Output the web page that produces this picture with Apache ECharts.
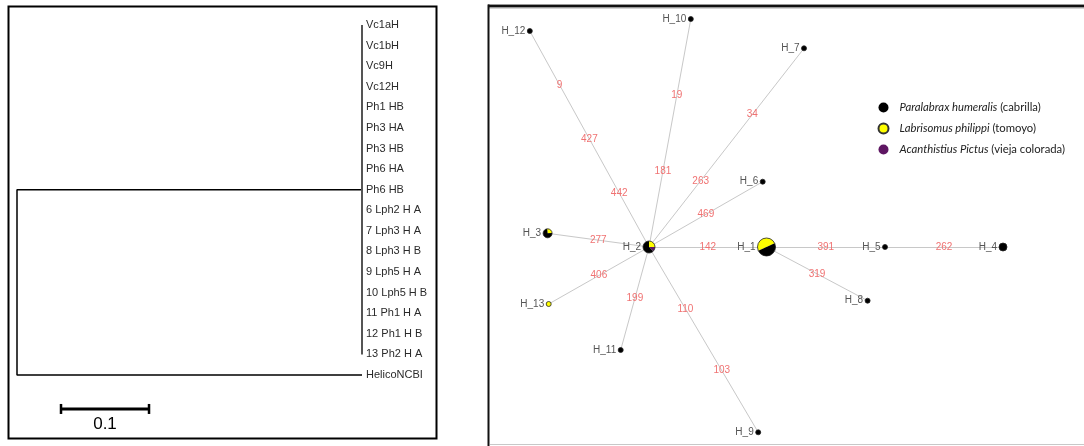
<!DOCTYPE html>
<html lang="en">
<head>
    <meta charset="UTF-8" />
    <title>Tree and haplotype network</title>
    <script src="https://cdn.jsdelivr.net/npm/echarts@6.0.0/dist/echarts.min.js"></script>
    <style>
        html, body { margin: 0; padding: 0; background: #fff; }
        #main { width: 1084px; height: 446px; }
    </style>
</head>
<body>
    <div id="main"></div>
    <script>
        // ---- left: tree ----
        var tipNames = ["Vc1aH", "Vc1bH", "Vc9H", "Vc12H", "Ph1 HB", "Ph3 HA", "Ph3 HB", "Ph6 HA", "Ph6 HB",
            "6 Lph2 H A", "7 Lph3 H A", "8 Lph3 H B", "9 Lph5 H A", "10 Lph5 H B", "11 Ph1 H A", "12 Ph1 H B",
            "13 Ph2 H A", "HelicoNCBI"];
        var cladeBranch = 0.392;     // root -> clade node
        var outgroupBranch = 0.392;  // root -> HelicoNCBI
        var scaleLength = 0.1;

        // ---- right: haplotype network ----
        var nodeNames = ["H_1", "H_2", "H_3", "H_4", "H_5", "H_6", "H_7", "H_8", "H_9", "H_10", "H_11", "H_12", "H_13"];
        var nodeX = [278.5, 161, 59.6, 515, 397, 274.7, 316, 379.6, 270.2, 202.8, 132.7, 41.8, 60.7];
        var nodeY = [247, 247, 233.3, 247, 247, 181.7, 48.3, 300.7, 432.3, 19, 350, 31, 304];
        var nodeRadius = [9, 6, 4.5, 4, 2.5, 2.5, 2.5, 2.5, 2.5, 2.5, 2.5, 2.5, 2.5];
        // share of each species in a haplotype
        var nodeYellow = [0.5, 0.25, 0.25, 0, 0, 0, 0, 0, 0, 0, 0, 0, 1];
        var nodePurple = [0, 0.125, 0, 0, 0, 0, 0, 0, 0, 0, 0, 0, 0];
        var nodeBlack = [0.5, 0.625, 0.75, 1, 1, 1, 1, 1, 1, 1, 1, 1, 0];
        var nodeStartAngle = [155, -90, -95, -90, -90, -90, -90, -90, -90, -90, -90, -90, -90];

        var edgeFrom = ["H_2", "H_2", "H_2", "H_2", "H_2", "H_2", "H_1", "H_5", "H_1", "H_2", "H_2", "H_2"];
        var edgeTo = ["H_12", "H_10", "H_7", "H_6", "H_3", "H_1", "H_5", "H_4", "H_8", "H_13", "H_11", "H_9"];
        var edgeSteps = [["442", "427", "9"], ["181", "19"], ["263", "34"], ["469"], ["277"], ["142"],
            ["391"], ["262"], ["319"], ["406"], ["199"], ["110", "103"]];

        var speciesNames = ["Paralabrax humeralis", "Labrisomus philippi", "Acanthistius Pictus"];
        var speciesCommon = ["(cabrilla)", "(tomoyo)", "(vieja colorada)"];
        var speciesColors = ["#000000", "#ffff00", "#5e1662"];

        var chart = echarts.init(document.getElementById("main"));

        function idx(name) { return nodeNames.indexOf(name); }

        var treePath = [[cladeBranch, 8], [0, 8], [0, tipNames.length - 1], [outgroupBranch, tipNames.length - 1]];
        var tipData = tipNames.map(function (n, i) {
            return [i < tipNames.length - 1 ? cladeBranch : outgroupBranch, i, n];
        });

        var edgeLines = edgeFrom.map(function (f, i) {
            var a = idx(f), b = idx(edgeTo[i]);
            return { coords: [[nodeX[a], nodeY[a]], [nodeX[b], nodeY[b]]] };
        });
        // mutation labels spaced evenly along each edge
        var stepData = [];
        edgeFrom.forEach(function (f, i) {
            var a = idx(f), b = idx(edgeTo[i]);
            var n = edgeSteps[i].length;
            edgeSteps[i].forEach(function (s, k) {
                var t = (k + 1) / (n + 1);
                stepData.push([nodeX[a] + (nodeX[b] - nodeX[a]) * t, nodeY[a] + (nodeY[b] - nodeY[a]) * t, s]);
            });
        });
        var nodeData = nodeNames.map(function (n, i) { return [nodeX[i], nodeY[i], n]; });

        var option = {
            animation: false,
            backgroundColor: "#fff",
            grid: [
                { left: 17, top: 25, width: 345, height: 411.76 },
                { left: 488, top: 0, width: 596, height: 446 }
            ],
            xAxis: [
                { gridIndex: 0, type: "value", min: 0, max: cladeBranch, show: false },
                { gridIndex: 1, type: "value", min: 0, max: 596, show: false }
            ],
            yAxis: [
                { gridIndex: 0, type: "value", min: 0, max: 20, inverse: true, show: false },
                { gridIndex: 1, type: "value", min: 0, max: 446, inverse: true, show: false }
            ],
            legend: {
                orient: "vertical",
                left: 877.5,
                top: 101,
                padding: 0,
                itemWidth: 22,
                itemHeight: 10,
                itemGap: 8,
                selectedMode: false,
                data: speciesNames,
                formatter: function (name) {
                    return "{i|" + name + "} " + speciesCommon[speciesNames.indexOf(name)];
                },
                textStyle: {
                    color: "#222", fontSize: 11.3, fontFamily: "Lato", lineHeight: 13,
                    rich: { i: { fontStyle: "italic", fontSize: 11.3, fontFamily: "Lato", color: "#222" } }
                }
            },
            series: [
                {
                    type: "line", xAxisIndex: 0, yAxisIndex: 0, data: treePath, symbol: "none", clip: false,
                    lineStyle: { color: "#000", width: 1.5 }, silent: true
                },
                {
                    type: "line", xAxisIndex: 0, yAxisIndex: 0, data: [[cladeBranch, 0], [cladeBranch, tipNames.length - 2]],
                    symbol: "none", clip: false, lineStyle: { color: "#555", width: 2 }, silent: true
                },
                {
                    type: "line", xAxisIndex: 0, yAxisIndex: 0, clip: false, silent: true,
                    data: [[0.05, 18.65], [0.05 + scaleLength, 18.65]],
                    symbol: "rect", symbolSize: [2.5, 10], showAllSymbol: true,
                    itemStyle: { color: "#000" }, lineStyle: { color: "#000", width: 3 }
                },
                {
                    type: "custom", xAxisIndex: 0, yAxisIndex: 0, silent: true,
                    data: tipData.concat([[0.05 + scaleLength / 2, 19.38, String(scaleLength)]]),
                    renderItem: function (params, api) {
                        var p = api.coord([api.value(0), api.value(1)]);
                        var isScale = params.dataIndex === tipNames.length;
                        return {
                            type: "text", x: isScale ? p[0] : p[0] + 4, y: p[1],
                            style: {
                                text: isScale ? String(scaleLength) : tipNames[params.dataIndex],
                                align: isScale ? "center" : "left", verticalAlign: "middle",
                                fill: isScale ? "#000" : "#2a2a2a",
                                font: (isScale ? "17px" : "11px") + " 'Liberation Sans', Arial, sans-serif"
                            }
                        };
                    }
                },
                {
                    type: "lines", coordinateSystem: "cartesian2d", xAxisIndex: 1, yAxisIndex: 1, silent: true,
                    data: edgeLines, lineStyle: { color: "#c8c8c8", width: 1, opacity: 1 }
                },
                {
                    type: "custom", xAxisIndex: 1, yAxisIndex: 1, silent: true, data: stepData,
                    renderItem: function (params, api) {
                        var p = api.coord([api.value(0), api.value(1)]);
                        return {
                            type: "text", x: p[0], y: p[1],
                            style: {
                                text: stepData[params.dataIndex][2], align: "center", verticalAlign: "middle",
                                fill: "#f07272", font: "10px 'Liberation Sans', Arial, sans-serif"
                            }
                        };
                    }
                },
                {
                    type: "custom", xAxisIndex: 1, yAxisIndex: 1, silent: true, data: nodeData,
                    renderItem: function (params, api) {
                        var i = params.dataIndex;
                        var c = api.coord([api.value(0), api.value(1)]);
                        var r = nodeRadius[i];
                        var parts = [nodeYellow[i], nodePurple[i], nodeBlack[i]];
                        var cols = [speciesColors[1], speciesColors[2], speciesColors[0]];
                        var a = nodeStartAngle[i] * Math.PI / 180;
                        var children = [];
                        parts.forEach(function (f, k) {
                            if (f <= 0) return;
                            var b = a + f * Math.PI * 2;
                            children.push({
                                type: "sector",
                                shape: { cx: c[0], cy: c[1], r: r, r0: 0, startAngle: a, endAngle: b, clockwise: true },
                                style: { fill: cols[k] }
                            });
                            a = b;
                        });
                        children.push({
                            type: "circle", shape: { cx: c[0], cy: c[1], r: r },
                            style: { fill: null, stroke: "#222", lineWidth: 0.8 }
                        });
                        children.push({
                            type: "text", x: c[0] - r - 2, y: c[1],
                            style: {
                                text: nodeNames[i], align: "right", verticalAlign: "middle",
                                fill: "#555", font: "10px 'Liberation Sans', Arial, sans-serif"
                            }
                        });
                        return { type: "group", children: children };
                    }
                }
            ].concat(speciesNames.map(function (n, k) {
                return {
                    type: "scatter", name: n, xAxisIndex: 1, yAxisIndex: 1, data: [],
                    symbol: "circle",
                    itemStyle: { color: speciesColors[k], opacity: 1, borderColor: "#333", borderWidth: k === 1 ? 0.8 : 0 }
                };
            })),
            graphic: [
                { type: "rect", shape: { x: 8.5, y: 6.5, width: 428, height: 432 }, style: { fill: null, stroke: "#000", lineWidth: 2 } },
                { type: "line", shape: { x1: 488, y1: 6, x2: 1084, y2: 6 }, style: { stroke: "#111", lineWidth: 3 } },
                { type: "line", shape: { x1: 488, y1: 4.5, x2: 1084, y2: 4.5 }, style: { stroke: "#999", lineWidth: 1 } },
                { type: "line", shape: { x1: 488, y1: 8, x2: 1084, y2: 8 }, style: { stroke: "#aaa", lineWidth: 1 } },
                { type: "line", shape: { x1: 488.5, y1: 4.5, x2: 488.5, y2: 446 }, style: { stroke: "#111", lineWidth: 2 } },
                { type: "line", shape: { x1: 490, y1: 444.5, x2: 1084, y2: 444.5 }, style: { stroke: "#c8c8c8", lineWidth: 1 } }
            ]
        };

        chart.setOption(option);
    </script>
</body>
</html>
